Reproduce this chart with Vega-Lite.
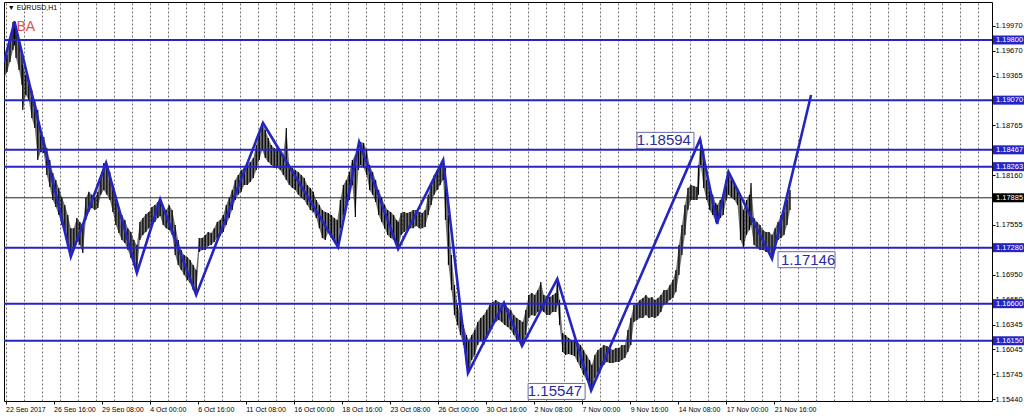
{
"$schema": "https://vega.github.io/schema/vega-lite/v6.json",
"width": 988, "height": 399,
"padding": {"left": 3, "top": 2, "right": 0, "bottom": 0},
"background": "white",
"config": {"view": {"stroke": "#000", "strokeWidth": 1}, "font": "Liberation Sans"},
"resolve": {"axis": {"x": "independent", "y": "independent"}},
"datasets": {
"px": [
{"i":-2,"h":1.19533,"l":1.19339},{"i":2,"h":1.19618,"l":1.19412},{"i":6,"h":1.198,"l":1.19533},{"i":10,"h":1.20019,"l":1.19679},{"i":12,"h":1.20031,"l":1.19739},{"i":14,"h":1.19946,"l":1.19582},{"i":18,"h":1.198,"l":1.19436},{"i":22,"h":1.19618,"l":1.19254},{"i":23,"h":1.19497,"l":1.18951},{"i":27,"h":1.19375,"l":1.19133},{"i":31,"h":1.19315,"l":1.19072},{"i":35,"h":1.19193,"l":1.18853},{"i":39,"h":1.19072,"l":1.18732},{"i":43,"h":1.18951,"l":1.18344},{"i":47,"h":1.18647,"l":1.18441},{"i":51,"h":1.18623,"l":1.18429},{"i":55,"h":1.1849,"l":1.18162},{"i":59,"h":1.18344,"l":1.18016},{"i":63,"h":1.18186,"l":1.17859},{"i":67,"h":1.18101,"l":1.17774},{"i":71,"h":1.18004,"l":1.17676},{"i":75,"h":1.17895,"l":1.17555},{"i":79,"h":1.17798,"l":1.1747},{"i":83,"h":1.17676,"l":1.17312},{"i":87,"h":1.17516,"l":1.17179},{"i":91,"h":1.17516,"l":1.17276},{"i":95,"h":1.1764,"l":1.17373},{"i":99,"h":1.17591,"l":1.17312},{"i":103,"h":1.17555,"l":1.17215},{"i":107,"h":1.17886,"l":1.17616},{"i":111,"h":1.17959,"l":1.17713},{"i":115,"h":1.17922,"l":1.17761},{"i":119,"h":1.17886,"l":1.17737},{"i":123,"h":1.17959,"l":1.17761},{"i":127,"h":1.18162,"l":1.17922},{"i":131,"h":1.18307,"l":1.1798},{"i":135,"h":1.18283,"l":1.17922},{"i":139,"h":1.18198,"l":1.17859},{"i":143,"h":1.18041,"l":1.17713},{"i":147,"h":1.17859,"l":1.17555},{"i":151,"h":1.17737,"l":1.17458},{"i":155,"h":1.17676,"l":1.17373},{"i":159,"h":1.17616,"l":1.17337},{"i":163,"h":1.17516,"l":1.17252},{"i":167,"h":1.1747,"l":1.17155},{"i":171,"h":1.17373,"l":1.1707},{"i":175,"h":1.17312,"l":1.16973},{"i":179,"h":1.17591,"l":1.17373},{"i":183,"h":1.1764,"l":1.17434},{"i":187,"h":1.17689,"l":1.1747},{"i":191,"h":1.17713,"l":1.17516},{"i":195,"h":1.17774,"l":1.17555},{"i":199,"h":1.17798,"l":1.17591},{"i":203,"h":1.17834,"l":1.1764},{"i":206,"h":1.17871,"l":1.17664},{"i":210,"h":1.17761,"l":1.17555},{"i":214,"h":1.17737,"l":1.17516},{"i":218,"h":1.17798,"l":1.17495},{"i":222,"h":1.17737,"l":1.17434},{"i":226,"h":1.17555,"l":1.17191},{"i":230,"h":1.17373,"l":1.1707},{"i":234,"h":1.17252,"l":1.17009},{"i":238,"h":1.17191,"l":1.16948},{"i":242,"h":1.17167,"l":1.16888},{"i":246,"h":1.1713,"l":1.16851},{"i":250,"h":1.1707,"l":1.16766},{"i":254,"h":1.17009,"l":1.16706},{"i":258,"h":1.17397,"l":1.17227},{"i":262,"h":1.17397,"l":1.17252},{"i":266,"h":1.17434,"l":1.17252},{"i":270,"h":1.1747,"l":1.173},{"i":274,"h":1.17458,"l":1.17312},{"i":278,"h":1.17516,"l":1.17349},{"i":282,"h":1.17591,"l":1.17397},{"i":286,"h":1.17616,"l":1.17422},{"i":290,"h":1.17676,"l":1.1747},{"i":294,"h":1.17798,"l":1.17555},{"i":298,"h":1.17886,"l":1.1764},{"i":302,"h":1.1798,"l":1.17737},{"i":306,"h":1.18101,"l":1.17859},{"i":310,"h":1.18162,"l":1.17922},{"i":314,"h":1.18223,"l":1.17959},{"i":318,"h":1.18247,"l":1.18041},{"i":322,"h":1.18283,"l":1.18041},{"i":326,"h":1.1832,"l":1.18077},{"i":330,"h":1.18368,"l":1.18126},{"i":334,"h":1.18526,"l":1.18223},{"i":338,"h":1.18647,"l":1.18344},{"i":342,"h":1.18793,"l":1.18465},{"i":346,"h":1.18708,"l":1.18368},{"i":350,"h":1.18611,"l":1.1832},{"i":354,"h":1.18526,"l":1.18283},{"i":358,"h":1.1849,"l":1.18247},{"i":362,"h":1.18465,"l":1.18247},{"i":366,"h":1.18441,"l":1.18223},{"i":370,"h":1.18405,"l":1.18162},{"i":374,"h":1.18732,"l":1.18101},{"i":378,"h":1.18283,"l":1.18041},{"i":382,"h":1.18247,"l":1.18004},{"i":386,"h":1.18223,"l":1.1798},{"i":390,"h":1.18198,"l":1.17922},{"i":394,"h":1.18162,"l":1.17886},{"i":398,"h":1.18126,"l":1.17859},{"i":402,"h":1.18041,"l":1.17798},{"i":406,"h":1.18004,"l":1.17737},{"i":410,"h":1.17959,"l":1.17713},{"i":414,"h":1.17859,"l":1.1764},{"i":418,"h":1.17798,"l":1.17516},{"i":422,"h":1.17737,"l":1.17397},{"i":426,"h":1.17713,"l":1.17373},{"i":430,"h":1.17701,"l":1.1747},{"i":434,"h":1.17676,"l":1.17397},{"i":438,"h":1.1764,"l":1.17373},{"i":442,"h":1.17616,"l":1.17288},{"i":446,"h":1.17859,"l":1.17516},{"i":450,"h":1.18041,"l":1.17676},{"i":454,"h":1.18101,"l":1.17798},{"i":458,"h":1.18198,"l":1.17859},{"i":462,"h":1.18344,"l":1.18041},{"i":466,"h":1.18405,"l":1.17652},{"i":470,"h":1.18526,"l":1.18223},{"i":473,"h":1.18562,"l":1.18283},{"i":477,"h":1.1855,"l":1.18247},{"i":481,"h":1.18465,"l":1.18162},{"i":485,"h":1.18283,"l":1.1798},{"i":489,"h":1.18198,"l":1.17922},{"i":493,"h":1.18101,"l":1.17834},{"i":497,"h":1.1798,"l":1.17676},{"i":501,"h":1.17895,"l":1.17591},{"i":505,"h":1.17798,"l":1.17516},{"i":509,"h":1.17737,"l":1.17434},{"i":513,"h":1.17713,"l":1.17397},{"i":517,"h":1.17676,"l":1.17373},{"i":521,"h":1.17616,"l":1.17312},{"i":523,"h":1.17591,"l":1.17264},{"i":527,"h":1.17701,"l":1.17434},{"i":531,"h":1.17713,"l":1.1747},{"i":535,"h":1.17701,"l":1.17495},{"i":539,"h":1.17713,"l":1.17516},{"i":543,"h":1.17737,"l":1.17516},{"i":547,"h":1.17737,"l":1.17543},{"i":551,"h":1.17713,"l":1.17516},{"i":555,"h":1.17701,"l":1.17516},{"i":559,"h":1.17737,"l":1.17531},{"i":563,"h":1.17922,"l":1.17676},{"i":567,"h":1.18041,"l":1.17798},{"i":571,"h":1.18162,"l":1.17922},{"i":575,"h":1.18223,"l":1.1798},{"i":579,"h":1.18283,"l":1.18041},{"i":583,"h":1.18344,"l":1.18101},{"i":586,"h":1.18247,"l":1.17616},{"i":590,"h":1.17676,"l":1.1707},{"i":594,"h":1.17191,"l":1.16766},{"i":598,"h":1.16827,"l":1.16463},{"i":602,"h":1.16584,"l":1.16341},{"i":606,"h":1.16463,"l":1.1622},{"i":610,"h":1.16341,"l":1.16099},{"i":614,"h":1.1622,"l":1.15856},{"i":617,"h":1.1616,"l":1.15759},{"i":621,"h":1.1622,"l":1.15917},{"i":625,"h":1.16281,"l":1.15977},{"i":629,"h":1.16378,"l":1.16099},{"i":633,"h":1.16426,"l":1.1616},{"i":637,"h":1.16463,"l":1.16099},{"i":641,"h":1.16524,"l":1.16184},{"i":645,"h":1.16584,"l":1.16281},{"i":649,"h":1.16621,"l":1.16341},{"i":653,"h":1.16645,"l":1.16378},{"i":657,"h":1.16621,"l":1.16402},{"i":661,"h":1.16584,"l":1.16378},{"i":665,"h":1.16609,"l":1.16341},{"i":669,"h":1.16548,"l":1.16317},{"i":673,"h":1.16524,"l":1.16281},{"i":677,"h":1.16463,"l":1.1622},{"i":681,"h":1.16426,"l":1.1616},{"i":685,"h":1.16402,"l":1.16135},{"i":689,"h":1.16378,"l":1.16087},{"i":693,"h":1.16524,"l":1.1622},{"i":697,"h":1.16706,"l":1.16426},{"i":701,"h":1.1673,"l":1.16463},{"i":705,"h":1.16706,"l":1.16451},{"i":709,"h":1.16766,"l":1.16499},{"i":713,"h":1.16863,"l":1.16524},{"i":717,"h":1.16706,"l":1.16499},{"i":721,"h":1.16694,"l":1.16463},{"i":725,"h":1.16682,"l":1.16463},{"i":729,"h":1.16706,"l":1.16499},{"i":733,"h":1.1673,"l":1.16499},{"i":735,"h":1.169,"l":1.16584},{"i":738,"h":1.16645,"l":1.16341},{"i":742,"h":1.16245,"l":1.16014},{"i":746,"h":1.1622,"l":1.15977},{"i":750,"h":1.16184,"l":1.15989},{"i":754,"h":1.1616,"l":1.15977},{"i":758,"h":1.1616,"l":1.15965},{"i":762,"h":1.16135,"l":1.15893},{"i":766,"h":1.16099,"l":1.1582},{"i":770,"h":1.16038,"l":1.15735},{"i":774,"h":1.15977,"l":1.15674},{"i":778,"h":1.15917,"l":1.15602},{"i":781,"h":1.15856,"l":1.15547},{"i":785,"h":1.15977,"l":1.15698},{"i":789,"h":1.16038,"l":1.15771},{"i":793,"h":1.16062,"l":1.1582},{"i":797,"h":1.16099,"l":1.15856},{"i":801,"h":1.16087,"l":1.15893},{"i":805,"h":1.16062,"l":1.15881},{"i":809,"h":1.16038,"l":1.15881},{"i":813,"h":1.16062,"l":1.15893},{"i":817,"h":1.16062,"l":1.15893},{"i":821,"h":1.16099,"l":1.15917},{"i":825,"h":1.16099,"l":1.15941},{"i":829,"h":1.16281,"l":1.16014},{"i":833,"h":1.16426,"l":1.16099},{"i":837,"h":1.16584,"l":1.16378},{"i":841,"h":1.16609,"l":1.16402},{"i":845,"h":1.16645,"l":1.16426},{"i":849,"h":1.16669,"l":1.16426},{"i":853,"h":1.16706,"l":1.16463},{"i":857,"h":1.16669,"l":1.16426},{"i":861,"h":1.16682,"l":1.16439},{"i":865,"h":1.16645,"l":1.16426},{"i":869,"h":1.16669,"l":1.16451},{"i":873,"h":1.16706,"l":1.16499},{"i":877,"h":1.16766,"l":1.16584},{"i":881,"h":1.16766,"l":1.16609},{"i":885,"h":1.16827,"l":1.16645},{"i":889,"h":1.16888,"l":1.16669},{"i":893,"h":1.17009,"l":1.16742},{"i":897,"h":1.17312,"l":1.16948},{"i":901,"h":1.17555,"l":1.17191},{"i":905,"h":1.17798,"l":1.17434},{"i":909,"h":1.18004,"l":1.17737},{"i":913,"h":1.18041,"l":1.17859},{"i":917,"h":1.18028,"l":1.17859},{"i":921,"h":1.18016,"l":1.17859},{"i":923,"h":1.18283,"l":1.17922},{"i":926,"h":1.18594,"l":1.18283},{"i":930,"h":1.18465,"l":1.18004},{"i":934,"h":1.18101,"l":1.17859},{"i":938,"h":1.1798,"l":1.17737},{"i":942,"h":1.17922,"l":1.17676},{"i":946,"h":1.17822,"l":1.17591},{"i":948,"h":1.17798,"l":1.17567},{"i":952,"h":1.17859,"l":1.1764},{"i":956,"h":1.17922,"l":1.17676},{"i":960,"h":1.18101,"l":1.17859},{"i":963,"h":1.18198,"l":1.17922},{"i":967,"h":1.18101,"l":1.17886},{"i":971,"h":1.18041,"l":1.17859},{"i":975,"h":1.18004,"l":1.17798},{"i":979,"h":1.17886,"l":1.17373},{"i":983,"h":1.17737,"l":1.17276},{"i":987,"h":1.17859,"l":1.17434},{"i":991,"h":1.17922,"l":1.17495},{"i":993,"h":1.18065,"l":1.17555},{"i":997,"h":1.1764,"l":1.17312},{"i":1001,"h":1.17591,"l":1.17276},{"i":1005,"h":1.17555,"l":1.17252},{"i":1009,"h":1.17495,"l":1.17252},{"i":1013,"h":1.1747,"l":1.17227},{"i":1017,"h":1.1747,"l":1.17227},{"i":1021,"h":1.17434,"l":1.17146},{"i":1025,"h":1.17516,"l":1.17252},{"i":1029,"h":1.17591,"l":1.17373},{"i":1033,"h":1.17676,"l":1.17397},{"i":1037,"h":1.17713,"l":1.17434},{"i":1041,"h":1.17859,"l":1.17555},{"i":1045,"h":1.1798,"l":1.17737}
],
"zz": [
{"i":-2,"p":1.19533},{"i":12,"p":1.2002},{"i":87,"p":1.1717},{"i":134,"p":1.18308},{"i":175,"p":1.16973},{"i":206,"p":1.17867},{"i":254,"p":1.16706},{"i":343,"p":1.18793},{"i":443,"p":1.17288},{"i":471,"p":1.18562},{"i":523,"p":1.17264},{"i":583,"p":1.18344},{"i":616,"p":1.15759},{"i":664,"p":1.16609},{"i":688,"p":1.16087},{"i":735,"p":1.169},{"i":780,"p":1.15547},{"i":925,"p":1.18594},{"i":948,"p":1.17567},{"i":963,"p":1.18198},{"i":1021,"p":1.17146},{"i":1073,"p":1.19133}
],
"lv": [{"level":1.198},{"level":1.1907},{"level":1.18467},{"level":1.18263},{"level":1.1728},{"level":1.166},{"level":1.1615}],
"bid": [{"level":1.17885}],
"lb": [{"i":925,"p":1.18594,"label":"1.18594"},{"i":780,"p":1.15547,"label":"1.15547"},{"i":1021,"p":1.17146,"label":"1.17146"}]
},
"layer": [
{
"data": {"name": "px"},
"mark": {"type": "area", "color": "#000", "clip": true, "opacity": 0.55},
"encoding": {
"x": {"field": "i", "type": "quantitative", "scale": {"domain": [-2, 1314], "nice": false, "zero": false},
 "axis": {"orient": "top", "values": [0,24,48,72,96,120,144,168,192,216,240,264,288,312,336,360,384,408,432,456,480,504,528,552,576,600,624,648,672,696,720,744,768,792,816,840,864,888,912,936,960,984,1008,1032,1056,1080,1104,1128,1152,1176,1200,1224,1248,1272,1296],
 "grid": true, "gridDash": [2,2], "gridColor": "#707070", "gridWidth": 1, "gridOpacity": 1, "labels": false, "ticks": false, "domain": false, "title": null, "minExtent": 0, "maxExtent": 0}},
"y": {"field": "h", "type": "quantitative", "scale": {"domain": [1.15419, 1.20261], "nice": false, "zero": false},
 "axis": {"orient": "right", "values": [1.1997,1.1967,1.19365,1.18765,1.1816,1.17555,1.1695,1.1665,1.16345,1.16045,1.15745,1.1544], "format": ".5f", "title": null, "grid": false, "domain": false, "tickSize": 3, "tickColor": "#000", "labelFontSize": 7.5, "labelColor": "#000", "labelPadding": 0, "labelBaseline": "middle", "labelFont": "Liberation Sans"}},
"y2": {"field": "l"}
}
},
{
"data": {"name": "px"},
"mark": {"type": "rule", "color": "#000", "strokeWidth": 1.2, "clip": true},
"encoding": {
"x": {"field": "i", "type": "quantitative", "axis": null},
"y": {"field": "h", "type": "quantitative", "axis": null},
"y2": {"field": "l"}
}
},
{
"data": {"name": "lv"},
"mark": {"type": "rule", "color": "#2424c8", "strokeWidth": 2},
"encoding": {"y": {"field": "level", "type": "quantitative", "axis": null}}
},
{
"data": {"name": "bid"},
"mark": {"type": "rule", "color": "#222", "strokeWidth": 1},
"encoding": {"y": {"field": "level", "type": "quantitative", "axis": null}}
},
{
"data": {"name": "zz"},
"mark": {"type": "line", "color": "#2424c0", "strokeWidth": 2.6, "clip": true},
"encoding": {
"x": {"field": "i", "type": "quantitative",
 "axis": {"orient": "bottom", "values": [0,64,128,192,256,320,384,448,512,576,640,704,768,832,896,960,1024],
 "labelExpr": "['22 Sep 2017','26 Sep 16:00','29 Sep 08:00','4 Oct 00:00','6 Oct 16:00','11 Oct 08:00','16 Oct 00:00','18 Oct 16:00','23 Oct 08:00','26 Oct 00:00','30 Oct 16:00','2 Nov 08:00','7 Nov 00:00','9 Nov 16:00','14 Nov 08:00','17 Nov 00:00','21 Nov 16:00'][round(datum.value/64)]",
 "labelAlign": "left", "labelFontSize": 7, "labelColor": "#000", "labelFont": "Liberation Sans", "tickSize": 3, "tickColor": "#000", "labelPadding": 1, "domain": false, "grid": false, "title": null, "labelFlush": false, "labelOverlap": false}},
"y": {"field": "p", "type": "quantitative", "axis": null}
}
},
{
"data": {"name": "lb"},
"transform": [{"filter": "datum.label != '1.17146'"}],
"mark": {"type": "point", "shape": "M-6.3,-0.7H-0.6V0.9H-6.3Z", "size": 400, "filled": false, "fill": "white", "fillOpacity": 1, "stroke": "#6a6aa8", "strokeWidth": 1, "opacity": 1},
"encoding": {"x": {"field": "i", "type": "quantitative", "axis": null}, "y": {"field": "p", "type": "quantitative", "axis": null}}
},
{
"data": {"name": "lb"},
"transform": [{"filter": "datum.label == '1.17146'"}],
"mark": {"type": "point", "shape": "M0.6,-0.7H6.3V0.9H0.6Z", "size": 400, "filled": false, "fill": "white", "fillOpacity": 1, "stroke": "#6a6aa8", "strokeWidth": 1, "opacity": 1},
"encoding": {"x": {"field": "i", "type": "quantitative", "axis": null}, "y": {"field": "p", "type": "quantitative", "axis": null}}
},
{
"data": {"name": "lb"},
"transform": [{"filter": "datum.label != '1.17146'"}],
"mark": {"type": "text", "align": "right", "baseline": "middle", "dx": -9, "dy": 1, "fontSize": 15, "color": "#2a2aa0", "font": "Liberation Sans"},
"encoding": {"x": {"field": "i", "type": "quantitative", "axis": null}, "y": {"field": "p", "type": "quantitative", "axis": null}, "text": {"field": "label"}}
},
{
"data": {"name": "lb"},
"transform": [{"filter": "datum.label == '1.17146'"}],
"mark": {"type": "text", "align": "left", "baseline": "middle", "dx": 9, "dy": 1, "fontSize": 15, "color": "#2a2aa0", "font": "Liberation Sans"},
"encoding": {"x": {"field": "i", "type": "quantitative", "axis": null}, "y": {"field": "p", "type": "quantitative", "axis": null}, "text": {"field": "label"}}
},
{
"data": {"name": "lv"},
"mark": {"type": "point", "shape": "M0.1,-0.45H3.3V0.45H0.1Z", "size": 400, "filled": true, "color": "#2424c8", "opacity": 1, "clip": false},
"encoding": {"x": {"datum": 1314, "type": "quantitative", "axis": null}, "y": {"field": "level", "type": "quantitative", "axis": null}}
},
{
"data": {"name": "lv"},
"mark": {"type": "text", "align": "left", "baseline": "middle", "dx": 4, "fontSize": 7.5, "color": "white", "font": "Liberation Sans", "clip": false},
"encoding": {"x": {"datum": 1314, "type": "quantitative", "axis": null}, "y": {"field": "level", "type": "quantitative", "axis": null}, "text": {"field": "level", "format": ".5f"}}
},
{
"data": {"name": "bid"},
"mark": {"type": "point", "shape": "M0.1,-0.45H3.3V0.45H0.1Z", "size": 400, "filled": true, "color": "#000", "opacity": 1, "clip": false},
"encoding": {"x": {"datum": 1314, "type": "quantitative", "axis": null}, "y": {"field": "level", "type": "quantitative", "axis": null}}
},
{
"data": {"name": "bid"},
"mark": {"type": "text", "align": "left", "baseline": "middle", "dx": 4, "fontSize": 7.5, "color": "white", "font": "Liberation Sans", "clip": false},
"encoding": {"x": {"datum": 1314, "type": "quantitative", "axis": null}, "y": {"field": "level", "type": "quantitative", "axis": null}, "text": {"field": "level", "format": ".5f"}}
},
{
"data": {"values": [{"t": "BA"}]},
"mark": {"type": "text", "align": "center", "baseline": "middle", "fontSize": 14, "color": "#e05050", "font": "Liberation Sans"},
"encoding": {"x": {"datum": 27, "type": "quantitative", "axis": null}, "y": {"datum": 1.1996, "type": "quantitative", "axis": null}, "text": {"field": "t"}}
},
{
"data": {"values": [{"t": "▼ EURUSD,H1"}]},
"mark": {"type": "text", "align": "left", "baseline": "middle", "fontSize": 7, "color": "#000", "font": "Liberation Sans"},
"encoding": {"x": {"datum": 3, "type": "quantitative", "axis": null}, "y": {"datum": 1.20188, "type": "quantitative", "axis": null}, "text": {"field": "t"}}
}
]
}
